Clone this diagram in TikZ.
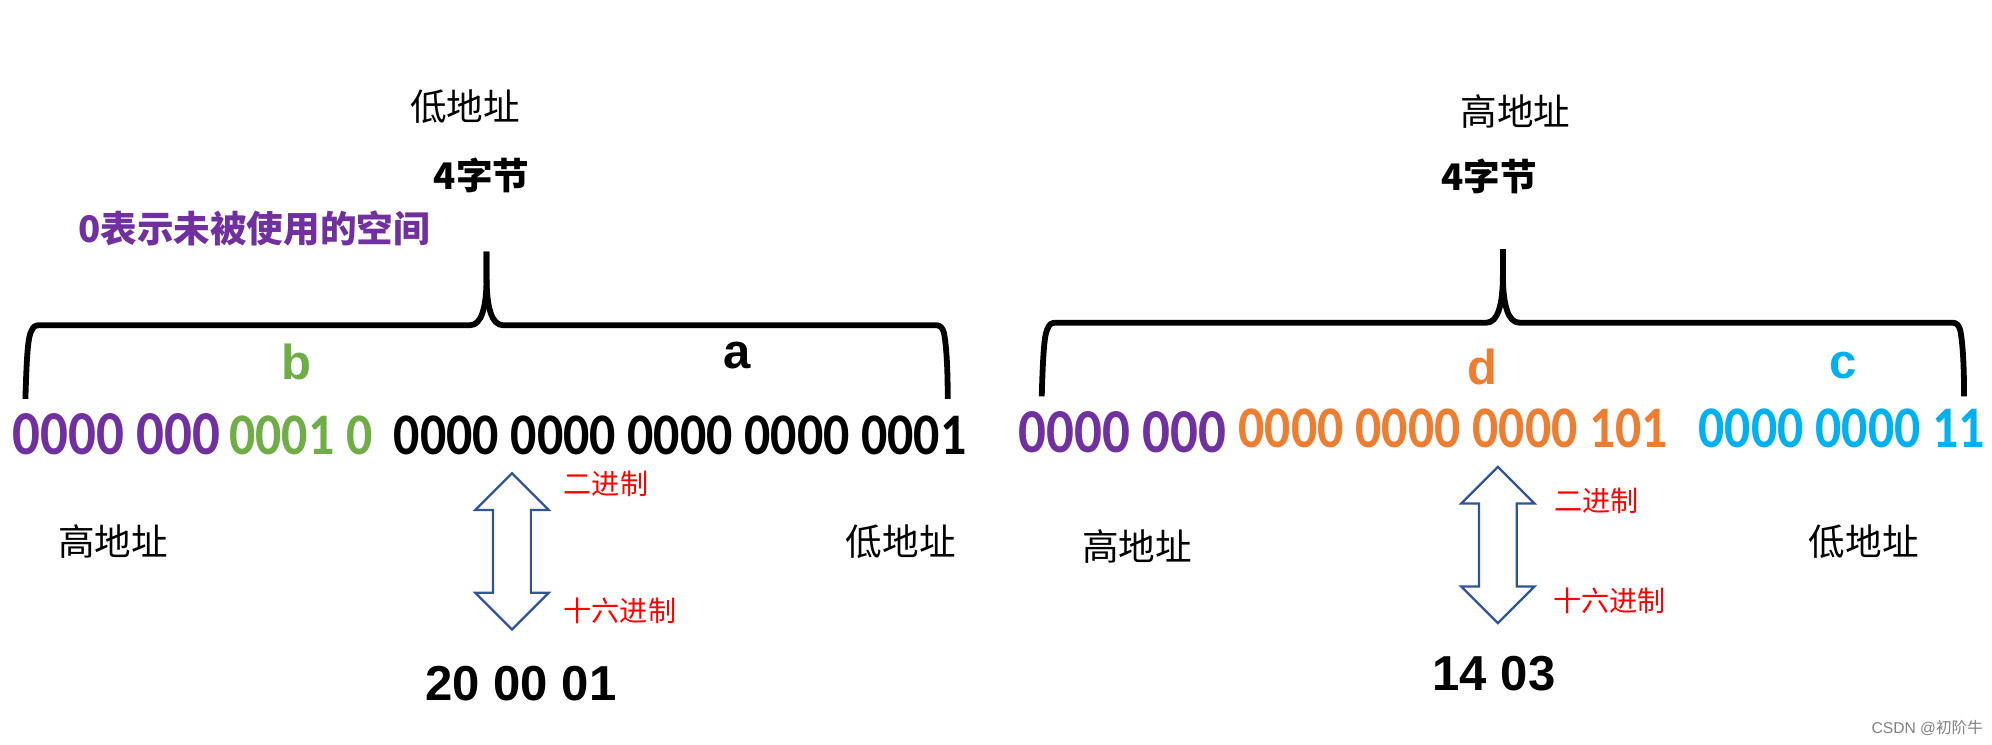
\documentclass[tikz,border=0pt]{standalone}
\usepackage{fontspec}
\usepackage{xcolor}
\usetikzlibrary{positioning,shapes.arrows}
\setmainfont{Liberation Sans}
\newfontfamily\cjk{Noto Sans CJK SC}
\newfontfamily\bitfont[FakeStretch=0.88]{Carlito}
\definecolor{padpurple}{HTML}{7030A0}
\definecolor{bgreen}{HTML}{70AD47}
\definecolor{dorange}{HTML}{ED7D31}
\definecolor{ccyan}{HTML}{00B0F0}
\definecolor{arrowblue}{HTML}{2F5597}

\begin{document}
\begin{tikzpicture}[
  x=0.02cm, y=-0.02cm,
  every node/.style={inner sep=0pt, outer sep=0pt},
  addr/.style={font=\cjk\fontsize{16.4}{20}\selectfont},
  bytes/.style={font=\cjk\bfseries\fontsize{16.4}{20}\selectfont},
  radix/.style={font=\cjk\fontsize{12.6}{15}\selectfont, text=red},
  bits/.style={font=\bitfont\bfseries\fontsize{26.4}{30}\selectfont, anchor=base west},
  padbits/.style={font=\bitfont\bfseries\fontsize{28}{32}\selectfont, anchor=base west, text=padpurple},
  var/.style={font=\bfseries\fontsize{22}{26}\selectfont},
  hex/.style={font=\bfseries\fontsize{22}{26}\selectfont},
  brace/.style={line width=2.6pt, line cap=butt, line join=round},
  convert/.style={double arrow, draw=arrowblue, line width=1pt, fill=white, rotate=90,
    inner sep=0.28cm, minimum height=2.46cm, minimum width=1.12cm, double arrow head extend=0.28cm}
]
  \useasboundingbox (0,0) rectangle (1568,586);

  \node[addr] (lowtopL) at (366,84) {低地址};
  \node[bytes] (bytesL) at (379,138) {4字节};
  \node[bytes, text=padpurple] (padnote) at (200,180) {0表示未被使用的空间};
  \draw[brace] (383,198) -- (383,218) .. controls (383,242) and (379,256) .. (370,256)
    -- (31,256) .. controls (28,256) and (26,257) .. (25,260)
    .. controls (22,264) and (21,280) .. (20,314);
  \draw[brace] (383,198) -- (383,218) .. controls (383,242) and (387,256) .. (396,256)
    -- (737,256) .. controls (740,256) and (742,258) .. (743,262)
    .. controls (745,272) and (746,290) .. (746,314);
  \node[var, text=bgreen] (varb) at (233,285) {b};
  \node[var] (vara) at (580,280) {a};
  \node[padbits] (padL) at (10,358) {0000 000};
  \node[bits, text=bgreen] (bitsb) [base right=0.14cm of padL] {0001 0};
  \node[bits] (bitsa) [base right=0.34cm of bitsb] {0000 0000 0000 0000 0001};
  \node[addr] (highL) at (89,426) {高地址};
  \node[addr] (lowL) at (709,426) {低地址};
  \node[convert] (convL) at (403,434) {};
  \node[radix] (binL) at (477,381) {二进制};
  \node[radix] (hexL) at (488,481) {十六进制};
  \node[hex] (valL) at (410,538) {20 00 01};

  \node[addr] (hightopR) at (1193,88) {高地址};
  \node[bytes] (bytesR) at (1172,139) {4字节};
  \draw[brace] (1183,196) -- (1183,216) .. controls (1183,240) and (1179,254) .. (1170,254)
    -- (831,254) .. controls (828,254) and (826,255) .. (825,258)
    .. controls (822,262) and (821,278) .. (820,312);
  \draw[brace] (1183,196) -- (1183,216) .. controls (1183,240) and (1187,254) .. (1196,254)
    -- (1537,254) .. controls (1540,254) and (1542,256) .. (1543,260)
    .. controls (1545,270) and (1546,288) .. (1546,312);
  \node[var, text=dorange] (vard) at (1167,289) {d};
  \node[var, text=ccyan] (varc) at (1451,288) {c};
  \node[padbits] (padR) at (802,356) {0000 000};
  \node[bits, text=dorange] (bitsd) at (975,352) {0000 0000 0000 101};
  \node[bits, text=ccyan] (bitsc) at (1337,352) {0000 0000 11};
  \node[addr] (highR) at (895,430) {高地址};
  \node[addr] (lowR) at (1467,426) {低地址};
  \node[convert] (convR) at (1179,429) {};
  \node[radix] (binR) at (1257,394) {二进制};
  \node[radix] (hexR) at (1267,473) {十六进制};
  \node[hex] (valR) at (1176,530) {14 03};

  \node[font=\fontsize{7}{8}\selectfont, text=gray] (mark) at (1517,573) {CSDN @{\cjk 初阶牛}};
\end{tikzpicture}
\end{document}
